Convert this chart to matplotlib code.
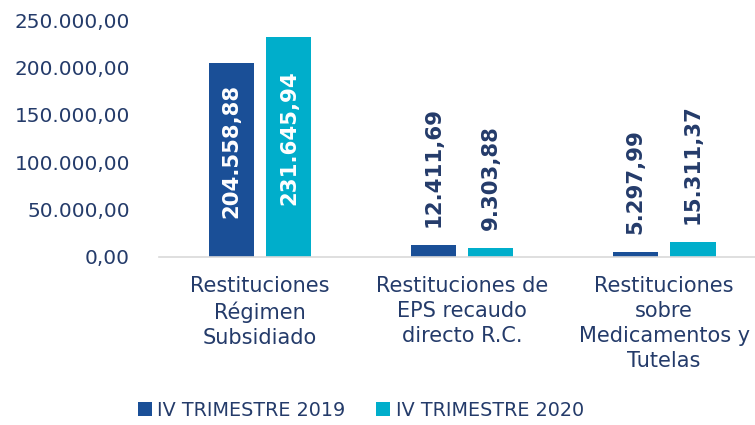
import matplotlib
matplotlib.use("Agg")
import matplotlib.pyplot as plt
import numpy as np
from matplotlib.ticker import FuncFormatter

categories = ["Restituciones\nRégimen\nSubsidiado",
              "Restituciones de\nEPS recaudo\ndirecto R.C.",
              "Restituciones\nsobre\nMedicamentos y\nTutelas"]
series_names = ["IV TRIMESTRE 2019", "IV TRIMESTRE 2020"]
values_2019 = [204558.88, 12411.69, 5297.99]
values_2020 = [231645.94, 9303.88, 15311.37]
colors = ["#1A4F97", "#00AECB"]
text_color = "#243B6A"

def fmt_es(v, decimals=2):
    s = f"{v:,.{decimals}f}"
    return s.replace(",", "X").replace(".", ",").replace("X", ".")

fig = plt.figure(figsize=(7.55, 4.25), dpi=100)
ax = fig.add_axes([159/755, 1-257/425, 596/755, (257-20)/425])

x = np.arange(len(categories))
w = 0.223
off = 0.143
series = [values_2019, values_2020]
for i, vals in enumerate(series):
    pos = x + (i*2-1)*off
    ax.bar(pos, vals, width=w, color=colors[i], label=series_names[i], zorder=2)
    for p, v in zip(pos, vals):
        if v > 100000:
            ax.text(p, v/2 + 10000, fmt_es(v), rotation=90, ha="center", va="center",
                    color="white", fontsize=15.3, fontweight="bold")
        else:
            ax.annotate(fmt_es(v), (p, v), xytext=(0, 13), textcoords="offset points",
                        rotation=90, ha="center", va="bottom", color=text_color,
                        fontsize=15.3, fontweight="bold")

ax.set_xlim(-0.5, 2.45)
ax.set_ylim(0, 250000)
ax.set_yticks(np.arange(0, 250001, 50000))
ax.yaxis.set_major_formatter(FuncFormatter(lambda v, p: fmt_es(v)))
ax.set_xticks(x)
ax.set_xticklabels(categories, linespacing=1.3, fontsize=15)
for s in ["top", "right", "left"]:
    ax.spines[s].set_visible(False)
ax.spines["bottom"].set_color("#D9D9D9")
ax.spines["bottom"].set_linewidth(1.2)
ax.tick_params(axis="both", length=0, colors=text_color)
ax.tick_params(axis="y", labelsize=14.4, pad=21)
ax.tick_params(axis="x", pad=14)
for lab in ax.get_xticklabels() + ax.get_yticklabels():
    lab.set_color(text_color)

leg = fig.legend(loc="center", bbox_to_anchor=(361/755, 1-410/425), ncol=2, frameon=False,
                 fontsize=13.8, handlelength=0.7, handleheight=0.7, handletextpad=0.3,
                 columnspacing=1.6)
for t in leg.get_texts():
    t.set_color(text_color)

fig.savefig("out.png", dpi=100)
